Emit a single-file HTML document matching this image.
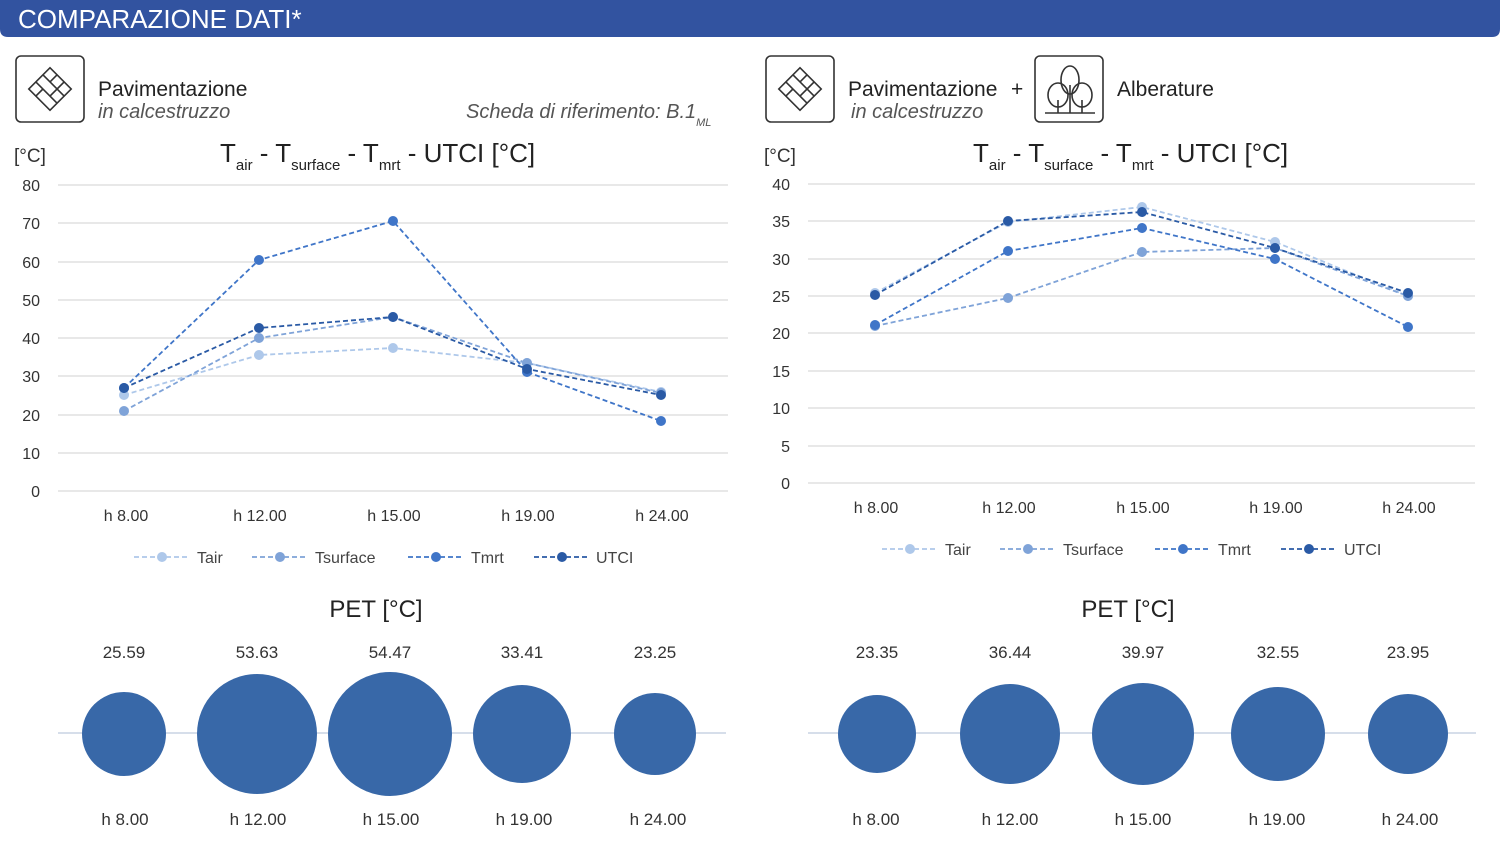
<!DOCTYPE html>
<html><head><meta charset="utf-8"><style>
body{margin:0;background:#fff;width:1500px;height:846px;overflow:hidden;font-family:"Liberation Sans",sans-serif}
</style></head><body>
<svg width="1500" height="846" xmlns="http://www.w3.org/2000/svg" font-family="Liberation Sans, sans-serif">
<path d="M0 0H1500V29Q1500 37 1492 37H8Q0 37 0 29Z" fill="#3253a0"/>
<text x="18" y="28" fill="#fff" font-size="26">COMPARAZIONE DATI*</text>
<g fill="none" stroke="#333" stroke-width="1.6">
<rect x="16" y="56" width="68" height="66" rx="5"/>
<g transform="translate(50,89) rotate(45)"><rect x="-15" y="-15" width="30" height="30"/><path d="M-15 -5H15M-15 5H15M-5 -15V-5M5 -5V5M-5 5V15M5 -15V-5"/></g>
<rect x="766" y="56" width="68" height="66" rx="5"/>
<g transform="translate(800,89) rotate(45)"><rect x="-15" y="-15" width="30" height="30"/><path d="M-15 -5H15M-15 5H15M-5 -15V-5M5 -5V5M-5 5V15M5 -15V-5"/></g>
<rect x="1035" y="56" width="68" height="66" rx="5"/>
<ellipse cx="1058" cy="95" rx="10" ry="12"/><ellipse cx="1070" cy="80" rx="9" ry="14"/><ellipse cx="1082" cy="95" rx="10" ry="12"/>
<path d="M1058 100V113M1070 85V113M1082 100V113M1045 113H1095"/>
</g>
<text x="98" y="96" font-size="21" fill="#222">Pavimentazione</text>
<text x="98" y="118" font-size="20" fill="#555" font-style="italic">in calcestruzzo</text>
<text x="466" y="118" font-size="20" fill="#555" font-style="italic">Scheda di riferimento: B.1<tspan font-size="11" dy="8">ML</tspan></text>
<text x="848" y="96" font-size="21" fill="#222">Pavimentazione</text>
<text x="1011" y="96" font-size="21" fill="#222">+</text>
<text x="851" y="118" font-size="20" fill="#555" font-style="italic">in calcestruzzo</text>
<text x="1117" y="96" font-size="21" fill="#222">Alberature</text>
<text x="14" y="162" font-size="19" fill="#333">[°C]</text>
<text x="220" y="162" font-size="26" fill="#222">T<tspan font-size="15" dy="8">air</tspan><tspan dy="-8"> - T</tspan><tspan font-size="15" dy="8">surface</tspan><tspan dy="-8"> - T</tspan><tspan font-size="15" dy="8">mrt</tspan><tspan dy="-8"> - UTCI [°C]</tspan></text>
<text x="764" y="162" font-size="19" fill="#333">[°C]</text>
<text x="973" y="162" font-size="26" fill="#222">T<tspan font-size="15" dy="8">air</tspan><tspan dy="-8"> - T</tspan><tspan font-size="15" dy="8">surface</tspan><tspan dy="-8"> - T</tspan><tspan font-size="15" dy="8">mrt</tspan><tspan dy="-8"> - UTCI [°C]</tspan></text>
<g stroke="#d9d9d9" stroke-width="1.2">
<path d="M58 185H728M58 223H728M58 262H728M58 300H728M58 338H728M58 376H728M58 415H728M58 453H728M58 491H728"/>
<path d="M808 184H1475M808 221H1475M808 259H1475M808 296H1475M808 333H1475M808 371H1475M808 408H1475M808 446H1475M808 483H1475"/>
</g>
<g font-size="16" fill="#333" text-anchor="end">
<text x="40" y="191">80</text><text x="40" y="229">70</text><text x="40" y="268">60</text><text x="40" y="306">50</text><text x="40" y="344">40</text><text x="40" y="382">30</text><text x="40" y="421">20</text><text x="40" y="459">10</text><text x="40" y="497">0</text>
<text x="790" y="190">40</text><text x="790" y="227">35</text><text x="790" y="265">30</text><text x="790" y="302">25</text><text x="790" y="339">20</text><text x="790" y="377">15</text><text x="790" y="414">10</text><text x="790" y="452">5</text><text x="790" y="489">0</text>
</g>
<g font-size="16" fill="#333" text-anchor="middle">
<text x="126" y="521">h 8.00</text><text x="260" y="521">h 12.00</text><text x="394" y="521">h 15.00</text><text x="528" y="521">h 19.00</text><text x="662" y="521">h 24.00</text>
<text x="876" y="513">h 8.00</text><text x="1009" y="513">h 12.00</text><text x="1143" y="513">h 15.00</text><text x="1276" y="513">h 19.00</text><text x="1409" y="513">h 24.00</text>
</g>
<g fill="none" stroke-width="1.8" stroke-dasharray="5,3">
<polyline stroke="#aec8ea" points="124,395 259,355 393,348 527,363 661,392"/>
<polyline stroke="#7fa3d8" points="124,411 259,338 393,317 527,363 661,393"/>
<polyline stroke="#3f75c8" points="124,388 259,260 393,221 527,372 661,421"/>
<polyline stroke="#2a5aa5" points="124,388 259,328 393,317 527,369 661,395"/>
<polyline stroke="#aec8ea" points="875,293 1008,222 1142,207 1275,242 1408,296"/>
<polyline stroke="#7fa3d8" points="875,326 1008,298 1142,252 1275,248 1408,296"/>
<polyline stroke="#3f75c8" points="875,325 1008,251 1142,228 1275,259 1408,327"/>
<polyline stroke="#2a5aa5" points="875,295 1008,221 1142,212 1275,248 1408,293"/>
</g>
<g>
<g fill="#aec8ea"><circle cx="124" cy="395" r="5"/><circle cx="259" cy="355" r="5"/><circle cx="393" cy="348" r="5"/><circle cx="527" cy="363" r="5"/><circle cx="661" cy="392" r="5"/>
<circle cx="875" cy="293" r="5"/><circle cx="1008" cy="222" r="5"/><circle cx="1142" cy="207" r="5"/><circle cx="1275" cy="242" r="5"/><circle cx="1408" cy="296" r="5"/></g>
<g fill="#7fa3d8"><circle cx="124" cy="411" r="5"/><circle cx="259" cy="338" r="5"/><circle cx="393" cy="317" r="5"/><circle cx="527" cy="363" r="5"/><circle cx="661" cy="393" r="5"/>
<circle cx="875" cy="326" r="5"/><circle cx="1008" cy="298" r="5"/><circle cx="1142" cy="252" r="5"/><circle cx="1275" cy="248" r="5"/><circle cx="1408" cy="296" r="5"/></g>
<g fill="#3f75c8"><circle cx="124" cy="388" r="5"/><circle cx="259" cy="260" r="5"/><circle cx="393" cy="221" r="5"/><circle cx="527" cy="372" r="5"/><circle cx="661" cy="421" r="5"/>
<circle cx="875" cy="325" r="5"/><circle cx="1008" cy="251" r="5"/><circle cx="1142" cy="228" r="5"/><circle cx="1275" cy="259" r="5"/><circle cx="1408" cy="327" r="5"/></g>
<g fill="#2a5aa5"><circle cx="124" cy="388" r="5"/><circle cx="259" cy="328" r="5"/><circle cx="393" cy="317" r="5"/><circle cx="527" cy="369" r="5"/><circle cx="661" cy="395" r="5"/>
<circle cx="875" cy="295" r="5"/><circle cx="1008" cy="221" r="5"/><circle cx="1142" cy="212" r="5"/><circle cx="1275" cy="248" r="5"/><circle cx="1408" cy="293" r="5"/></g>
</g>
<g stroke-width="1.8" stroke-dasharray="5,3" fill="none">
<path stroke="#aec8ea" d="M134 557H190"/><path stroke="#7fa3d8" d="M252 557H308"/><path stroke="#3f75c8" d="M408 557H464"/><path stroke="#2a5aa5" d="M534 557H590"/>
<path stroke="#aec8ea" d="M882 549H938"/><path stroke="#7fa3d8" d="M1000 549H1056"/><path stroke="#3f75c8" d="M1155 549H1211"/><path stroke="#2a5aa5" d="M1281 549H1337"/>
</g>
<circle cx="162" cy="557" r="5" fill="#aec8ea"/><circle cx="280" cy="557" r="5" fill="#7fa3d8"/><circle cx="436" cy="557" r="5" fill="#3f75c8"/><circle cx="562" cy="557" r="5" fill="#2a5aa5"/>
<circle cx="910" cy="549" r="5" fill="#aec8ea"/><circle cx="1028" cy="549" r="5" fill="#7fa3d8"/><circle cx="1183" cy="549" r="5" fill="#3f75c8"/><circle cx="1309" cy="549" r="5" fill="#2a5aa5"/>
<g font-size="16" fill="#444">
<text x="197" y="563">Tair</text><text x="315" y="563">Tsurface</text><text x="471" y="563">Tmrt</text><text x="596" y="563">UTCI</text>
<text x="945" y="555">Tair</text><text x="1063" y="555">Tsurface</text><text x="1218" y="555">Tmrt</text><text x="1344" y="555">UTCI</text>
</g>
<g font-size="24" fill="#222" text-anchor="middle"><text x="376" y="617">PET [°C]</text><text x="1128" y="617">PET [°C]</text></g>
<path d="M58 733H726M808 733H1476" stroke="#c9d3e3" stroke-width="1.5"/>
<g font-size="17" fill="#333" text-anchor="middle">
<text x="124" y="658">25.59</text><text x="257" y="658">53.63</text><text x="390" y="658">54.47</text><text x="522" y="658">33.41</text><text x="655" y="658">23.25</text>
<text x="877" y="658">23.35</text><text x="1010" y="658">36.44</text><text x="1143" y="658">39.97</text><text x="1278" y="658">32.55</text><text x="1408" y="658">23.95</text>
<text x="125" y="825">h 8.00</text><text x="258" y="825">h 12.00</text><text x="391" y="825">h 15.00</text><text x="524" y="825">h 19.00</text><text x="658" y="825">h 24.00</text>
<text x="876" y="825">h 8.00</text><text x="1010" y="825">h 12.00</text><text x="1143" y="825">h 15.00</text><text x="1277" y="825">h 19.00</text><text x="1410" y="825">h 24.00</text>
</g>
<g fill="#3868a8">
<circle cx="124" cy="734" r="42"/><circle cx="257" cy="734" r="60"/><circle cx="390" cy="734" r="62"/><circle cx="522" cy="734" r="49"/><circle cx="655" cy="734" r="41"/>
<circle cx="877" cy="734" r="39"/><circle cx="1010" cy="734" r="50"/><circle cx="1143" cy="734" r="51"/><circle cx="1278" cy="734" r="47"/><circle cx="1408" cy="734" r="40"/>
</g>
</svg>
</body></html>
